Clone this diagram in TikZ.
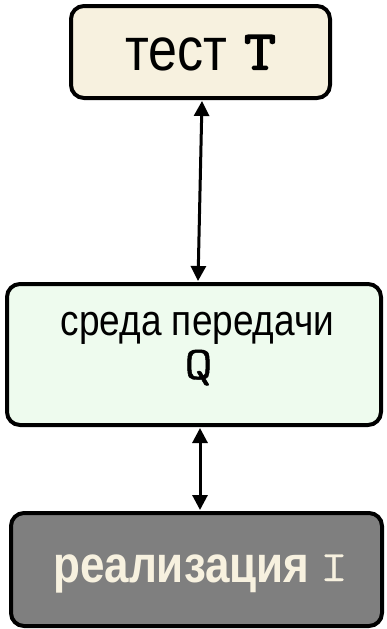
\documentclass[tikz,border=0pt]{standalone}
\usepackage{fontspec}
\usepackage{graphicx}
\setmainfont{Liberation Sans}
\newfontfamily\typeface[FakeBold=0.6]{Latin Modern Mono}
\newfontfamily\typefacebold[FakeBold=2.5]{Latin Modern Mono}
\newfontfamily\typefacemid[FakeBold=0.9]{Latin Modern Mono}
\usetikzlibrary{arrows.meta}

\definecolor{cream}{HTML}{F7F1DF}
\definecolor{mint}{HTML}{EEFBEE}
\definecolor{slate}{HTML}{7F7F7F}

% tall text: glyphs stretched vertically
\newcommand{\tall}[1]{\scalebox{1}[1.17]{#1}}
% wide typewriter letter
\newcommand{\widett}[2]{\scalebox{#1}[1.17]{#2}}

\tikzset{
  block/.style={draw=black, line width=4pt, rounded corners=13pt, inner sep=0pt},
  label/.style={anchor=base, inner sep=0pt},
  link/.style={line width=3pt, {Triangle[width=15pt,length=15pt]}-{Triangle[width=15pt,length=15pt]}, shorten <=1pt, shorten >=1pt}
}

\begin{document}
\begin{tikzpicture}[x=1pt,y=-1pt]
  \useasboundingbox (0,0) rectangle (387,629);

  % boxes
  \node[block, fill=cream, minimum width=259pt, minimum height=92pt] (test) at (200.5,52) {};
  \node[block, fill=mint, minimum width=374pt, minimum height=141pt] (medium) at (194,354.5) {};
  \node[block, fill=slate, minimum width=371pt, minimum height=113pt] (impl) at (196.5,569.5) {};

  % labels
  \node[label, anchor=base west] (testword) at (125,70) {\tall{\fontsize{52}{52}\selectfont тест}};
  \node[label] (testsym) at (260,69.5) {\widett{1.3}{\typefacebold\fontsize{48}{48}\selectfont T}};
  \node[label] (mediumtext) at (197.5,335) {\tall{\fontsize{37}{37}\selectfont среда передачи}};
  \node[label] (mediumsym) at (198.5,379) {\widett{1.35}{\typefacemid\fontsize{40}{40}\selectfont Q}};
  \node[label, anchor=base west, text=cream] (implword) at (53,582) {\tall{\bfseries\fontsize{44}{44}\selectfont реализация}};
  \node[label, text=cream] (implsym) at (334,581) {\widett{1.45}{\typeface\fontsize{37}{37}\selectfont I}};

  % connectors
  \draw[link] ([xshift=1.5pt]test.south) -- ([xshift=4pt]medium.north);
  \draw[link] ([xshift=6pt]medium.south) -- ([xshift=3.5pt]impl.north);
\end{tikzpicture}
\end{document}
